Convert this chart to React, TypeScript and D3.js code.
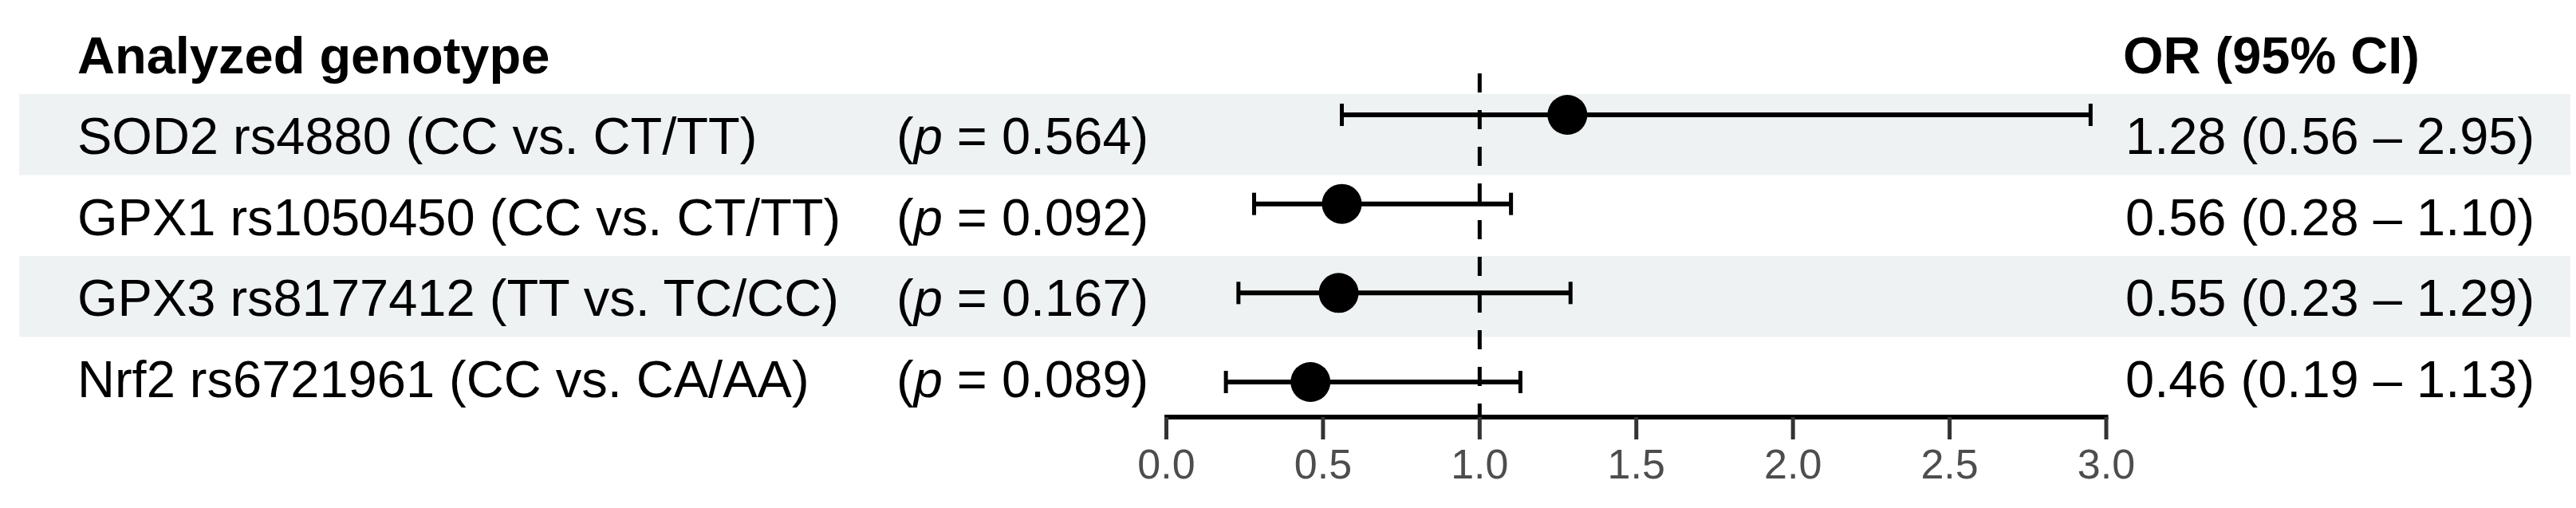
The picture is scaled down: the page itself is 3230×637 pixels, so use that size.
import { useEffect } from "react";
import * as d3 from "d3";

// forest plot: OR (95% CI) per genotype
const genotypes = [
  "SOD2 rs4880 (CC vs. CT/TT)",
  "GPX1 rs1050450 (CC vs. CT/TT)",
  "GPX3 rs8177412 (TT vs. TC/CC)",
  "Nrf2 rs6721961 (CC vs. CA/AA)",
];
const pValues = ["0.564", "0.092", "0.167", "0.089"];
const orValues = [1.28, 0.56, 0.55, 0.46];
const ciLower = [0.56, 0.28, 0.23, 0.19];
const ciUpper = [2.95, 1.1, 1.29, 1.13];
const xTicks = [0, 0.5, 1, 1.5, 2, 2.5, 3];

const W = 3230;
const H = 637;
const FONT = "'Liberation Sans', Arial, Helvetica, sans-serif";

const App = () => {
  useEffect(() => {
    document.body.style.margin = "0";
  }, []);

  // Escalas
  const x = d3.scaleLinear().domain([0, 3]).range([1462.5, 2641]);
  const yPlot = d3.scalePoint<string>().domain(genotypes).range([144, 479]);
  const yTable = d3.scaleBand<string>().domain(genotypes).range([118, 524]);
  const axisY = 523;
  const fmt = d3.format(".2f");

  return (
    <svg width={W} height={H} style={{ display: "block", background: "#fff" }} fontFamily={FONT}>
      {/* bandas de fondo */}
      {genotypes.map((g, i) =>
        i % 2 === 0 ? (
          <rect key={g} x={24} y={yTable(g)} width={3199} height={yTable.bandwidth()} fill="#eef2f3" />
        ) : null
      )}

      {/* encabezados */}
      <text x={97} y={92} fontSize={65} fontWeight="bold" fill="#000">
        Analyzed genotype
      </text>
      <text x={2662} y={92} fontSize={65} fontWeight="bold" fill="#000">
        OR (95% CI)
      </text>

      {/* columnas de texto */}
      {genotypes.map((g, i) => {
        const base = (yTable(g) ?? 0) + 75;
        return (
          <g key={g} fontSize={65} fill="#000">
            <text x={97} y={base}>{g}</text>
            <text x={1124} y={base}>
              (<tspan fontStyle="italic">p</tspan> = {pValues[i]})
            </text>
            <text x={2665} y={base}>
              {`${fmt(orValues[i])} (${fmt(ciLower[i])} \u2013 ${fmt(ciUpper[i])})`}
            </text>
          </g>
        );
      })}

      {/* línea de referencia en OR = 1 */}
      <line
        x1={x(1)}
        x2={x(1)}
        y1={92}
        y2={axisY}
        stroke="#000"
        strokeWidth={5}
        strokeDasharray="24 22"
      />

      {/* intervalos de confianza */}
      {genotypes.map((g, i) => {
        const cy = yPlot(g) ?? 0;
        return (
          <g key={g} stroke="#000">
            <line x1={x(ciLower[i])} x2={x(ciUpper[i])} y1={cy} y2={cy} strokeWidth={6} />
            <line x1={x(ciLower[i])} x2={x(ciLower[i])} y1={cy - 14} y2={cy + 14} strokeWidth={5} />
            <line x1={x(ciUpper[i])} x2={x(ciUpper[i])} y1={cy - 14} y2={cy + 14} strokeWidth={5} />
            <circle cx={x(orValues[i])} cy={cy} r={25} fill="#000" stroke="none" />
          </g>
        );
      })}

      {/* eje X */}
      <line x1={x(0) - 2.5} x2={x(3) + 2.5} y1={axisY} y2={axisY} stroke="#000" strokeWidth={6} />
      {xTicks.map((t) => (
        <g key={t}>
          <line x1={x(t)} x2={x(t)} y1={axisY} y2={551} stroke="#333" strokeWidth={5} />
          <text x={x(t)} y={600} textAnchor="middle" fontSize={52} fill="#4d4d4d">
            {d3.format(".1f")(t)}
          </text>
        </g>
      ))}
    </svg>
  );
};

export default App;
